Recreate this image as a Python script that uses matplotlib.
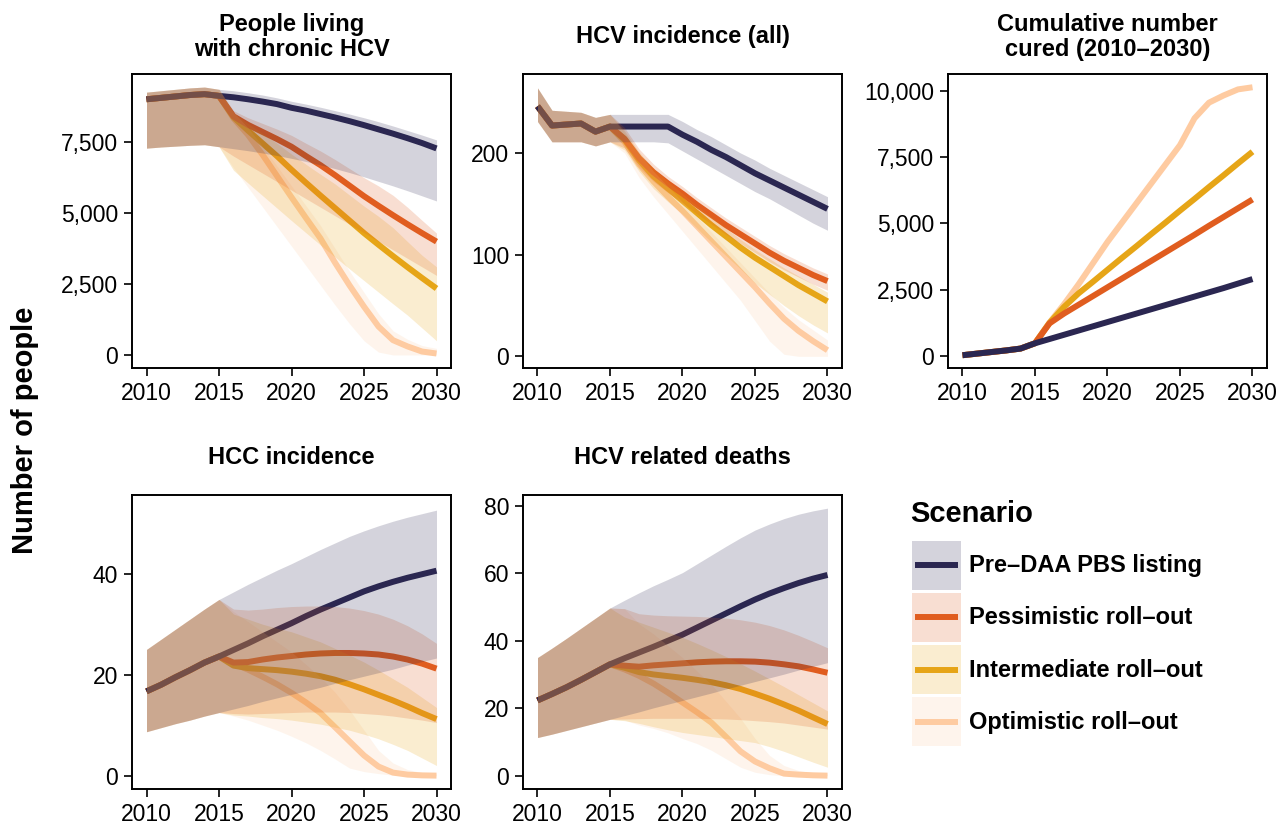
import matplotlib.pyplot as plt
from matplotlib.patches import Rectangle
from matplotlib.ticker import FuncFormatter

plt.rcParams['font.family'] = ['Liberation Sans', 'DejaVu Sans']

# years: shared history 2010-2015, scenarios split from 2016
years_pre = list(range(2010, 2016))
years_post = list(range(2016, 2031))

scenarios = ['pre', 'pess', 'inter', 'opt']
labels = ['Pre–DAA PBS listing', 'Pessimistic roll–out',
          'Intermediate roll–out', 'Optimistic roll–out']
colors = {'pre': '#2b2751', 'pess': '#e05d1f', 'inter': '#e6a517', 'opt': '#fecba1'}

# People living with chronic HCV
plhcv_mid = dict(
    common=[9000, 9050, 9100, 9150, 9180, 9120],
    pre=[9070, 9000, 8920, 8830, 8700, 8600, 8480, 8360, 8230, 8090, 7940, 7790, 7630, 7460, 7270],
    pess=[8400, 8100, 7850, 7600, 7330, 7000, 6680, 6330, 5960, 5590, 5250, 4920, 4600, 4290, 3990],
    inter=[8370, 7900, 7450, 7000, 6520, 6060, 5610, 5170, 4730, 4290, 3880, 3480, 3090, 2710, 2340],
    opt=[8330, 7750, 7050, 6300, 5550, 4820, 4100, 3250, 2450, 1700, 1000, 520, 300, 120, 50],
)
plhcv_hi = dict(
    common=[9250, 9300, 9350, 9400, 9430, 9350],
    pre=[9300, 9230, 9150, 9050, 8930, 8830, 8720, 8600, 8480, 8350, 8210, 8060, 7900, 7740, 7570],
    pess=[8600, 8350, 8150, 7950, 7730, 7450, 7180, 6880, 6560, 6240, 5950, 5620, 5200, 4740, 4290],
    inter=[8520, 8150, 7800, 7450, 7070, 6710, 6360, 6020, 5630, 5240, 4880, 4480, 3990, 3510, 3100],
    opt=[8550, 8000, 7350, 6650, 5950, 5250, 4550, 3750, 2950, 2200, 1450, 850, 550, 330, 230],
)
plhcv_lo = dict(
    common=[7280, 7320, 7350, 7380, 7400, 7330],
    pre=[7260, 7190, 7110, 7020, 6920, 6810, 6690, 6560, 6420, 6270, 6110, 5950, 5780, 5600, 5420],
    pess=[7000, 6700, 6400, 6100, 5800, 5500, 5200, 4900, 4600, 4300, 4000, 3700, 3400, 3100, 2800],
    inter=[6500, 6050, 5610, 5170, 4730, 4300, 3870, 3450, 3030, 2620, 2210, 1800, 1400, 950, 500],
    opt=[6590, 5900, 5210, 4520, 3830, 3140, 2450, 1760, 1100, 500, 100, 0, 0, 0, 0],
)

# HCV incidence (all)
inc_mid = dict(
    common=[246, 227, 228, 229, 221, 226],
    pre=[226, 226, 226, 226, 218, 211, 203, 196, 188, 180, 173, 166, 159, 152, 145],
    pess=[214, 195, 181, 170, 160, 149, 139, 129, 120, 111, 102, 94, 87, 80, 74],
    inter=[213, 193, 177, 165, 153, 141, 129, 118, 107, 97, 88, 79, 70, 62, 54],
    opt=[211, 189, 172, 157, 143, 128, 113, 98, 83, 68, 52, 37, 25, 15, 6],
)
inc_hi = dict(
    common=[264, 242, 241, 240, 235, 238],
    pre=[238, 238, 238, 238, 231, 223, 216, 208, 200, 193, 185, 178, 171, 164, 157],
    pess=[225, 204, 189, 177, 167, 156, 146, 136, 127, 118, 109, 101, 94, 87, 81],
    inter=[222, 201, 185, 172, 160, 148, 137, 126, 115, 105, 96, 87, 79, 71, 63],
    opt=[220, 200, 182, 167, 152, 137, 122, 107, 92, 77, 62, 48, 36, 26, 16],
)
inc_lo = dict(
    common=[231, 211, 211, 211, 207, 211],
    pre=[211, 211, 211, 210, 202, 194, 186, 178, 170, 162, 155, 147, 139, 131, 124],
    pess=[205, 186, 172, 161, 151, 140, 130, 120, 111, 102, 93, 85, 78, 71, 65],
    inter=[203, 182, 165, 152, 140, 126, 112, 99, 86, 72, 61, 50, 40, 31, 23],
    opt=[200, 176, 157, 140, 123, 106, 89, 72, 55, 35, 15, 2, 0, 0, 0],
)

# Cumulative number cured
cured = dict(
    common=[30, 90, 150, 210, 280, 480],
    pre=[640, 800, 960, 1120, 1280, 1440, 1600, 1760, 1920, 2080, 2240, 2400, 2560, 2730, 2900],
    pess=[1230, 1600, 1930, 2260, 2590, 2920, 3250, 3580, 3910, 4240, 4570, 4910, 5240, 5570, 5900],
    inter=[1250, 1850, 2360, 2800, 3250, 3700, 4140, 4590, 5030, 5480, 5920, 6370, 6810, 7260, 7700],
    opt=[1260, 1950, 2700, 3500, 4300, 5030, 5760, 6490, 7220, 7950, 8960, 9550, 9820, 10050, 10130],
)

# HCC incidence
hcc_mid = dict(
    common=[16.7, 18.0, 19.5, 20.9, 22.4, 23.6],
    pre=[24.9, 26.2, 27.6, 28.9, 30.2, 31.6, 32.9, 34.1, 35.3, 36.5, 37.5, 38.4, 39.2, 39.9, 40.6],
    pess=[22.4, 22.5, 23.0, 23.4, 23.7, 24.0, 24.2, 24.3, 24.3, 24.2, 24.0, 23.6, 23.0, 22.2, 21.2],
    inter=[21.8, 21.3, 21.1, 20.9, 20.6, 20.2, 19.7, 19.0, 18.1, 17.1, 16.0, 14.9, 13.7, 12.4, 11.2],
    opt=[22.2, 21.0, 19.6, 18.1, 16.4, 14.5, 12.4, 9.6, 6.8, 4.0, 1.8, 0.6, 0.2, 0.05, 0.0],
)
hcc_hi = dict(
    common=[25.0, 27.0, 29.0, 31.0, 33.0, 34.9],
    pre=[36.4, 37.9, 39.3, 40.7, 42.0, 43.4, 44.8, 46.1, 47.4, 48.5, 49.5, 50.4, 51.2, 51.9, 52.6],
    pess=[33.0, 32.8, 33.0, 33.3, 33.5, 33.6, 33.6, 33.5, 33.2, 32.7, 32.0, 31.0, 29.7, 28.1, 26.2],
    inter=[32.0, 31.0, 30.0, 29.2, 28.5, 27.5, 26.5, 25.2, 23.9, 22.5, 20.9, 19.2, 17.5, 15.5, 13.5],
    opt=[32.5, 30.5, 28.5, 26.5, 24.5, 22.0, 19.5, 16.5, 13.0, 9.0, 5.0, 2.5, 1.2, 0.6, 0.3],
)
hcc_lo = dict(
    common=[8.7, 9.5, 10.3, 11.0, 11.8, 12.5],
    pre=[13.2, 13.9, 14.7, 15.4, 16.1, 16.8, 17.5, 18.3, 19.0, 19.7, 20.4, 21.1, 21.9, 22.6, 23.3],
    pess=[12.3, 12.2, 12.3, 12.4, 12.5, 12.6, 12.6, 12.6, 12.5, 12.3, 12.1, 11.8, 11.4, 11.0, 10.5],
    inter=[12.0, 11.8, 11.5, 11.3, 11.0, 10.6, 10.2, 9.6, 9.0, 8.2, 7.3, 6.2, 5.0, 3.5, 2.0],
    opt=[11.8, 11.0, 10.0, 9.0, 7.8, 6.5, 5.0, 3.3, 1.5, 0.8, 0.4, 0.1, 0.0, 0.0, 0.0],
)

# HCV related deaths
death_mid = dict(
    common=[22.3, 24.2, 26.2, 28.4, 30.7, 33.0],
    pre=[34.8, 36.5, 38.2, 40.0, 41.8, 43.9, 46.0, 48.1, 50.2, 52.2, 54.0, 55.6, 57.1, 58.4, 59.5],
    pess=[32.6, 32.3, 32.7, 33.0, 33.3, 33.6, 33.8, 33.9, 33.9, 33.8, 33.5, 33.0, 32.4, 31.5, 30.5],
    inter=[32.0, 30.7, 30.0, 29.5, 29.0, 28.4, 27.7, 26.8, 25.7, 24.3, 22.8, 21.1, 19.3, 17.3, 15.3],
    opt=[31.5, 29.6, 27.3, 24.6, 21.7, 18.8, 15.7, 11.5, 7.2, 4.2, 2.2, 0.6, 0.3, 0.1, 0.0],
)
death_hi = dict(
    common=[35.0, 37.8, 40.7, 43.7, 46.7, 49.7],
    pre=[52.0, 54.2, 56.3, 58.2, 60.2, 62.8, 65.4, 68.0, 70.5, 72.8, 74.6, 76.2, 77.5, 78.5, 79.3],
    pess=[49.5, 48.0, 47.6, 47.4, 47.3, 47.2, 47.0, 46.7, 46.2, 45.5, 44.5, 43.2, 41.6, 39.8, 37.9],
    inter=[47.0, 45.5, 44.0, 42.5, 41.0, 39.2, 37.3, 35.3, 33.2, 31.0, 28.7, 26.4, 24.0, 21.6, 19.2],
    opt=[49.5, 45.0, 42.0, 38.5, 35.0, 31.0, 27.0, 22.0, 17.0, 11.0, 6.0, 3.0, 1.5, 0.8, 0.5],
)
death_lo = dict(
    common=[11.3, 12.3, 13.4, 14.5, 15.6, 16.7],
    pre=[17.8, 18.9, 20.1, 21.2, 22.3, 23.4, 24.5, 25.7, 26.8, 27.9, 29.0, 30.1, 31.3, 32.4, 33.5],
    pess=[16.8, 16.9, 17.0, 17.0, 17.0, 17.0, 16.9, 16.8, 16.6, 16.3, 16.0, 15.6, 15.0, 14.4, 13.8],
    inter=[16.3, 15.5, 14.5, 13.6, 12.8, 12.2, 11.6, 11.0, 10.4, 9.8, 8.6, 7.2, 5.6, 4.0, 2.5],
    opt=[16.5, 15.0, 14.0, 12.7, 11.0, 9.5, 7.5, 5.0, 2.5, 1.0, 0.3, 0.0, 0.0, 0.0, 0.0],
)

W, H = 1280, 825
fig = plt.figure(figsize=(W / 100, H / 100), dpi=100)

draw_order = ['opt', 'inter', 'pess', 'pre']
LW = 4.3


def panel(left, top, title, mid, lo=None, hi=None, yticks=(), ylim=None, comma=False):
    ax = fig.add_axes([left / W, 1 - (top + 294) / H, 319 / W, 294 / H])
    x = years_pre + years_post
    # lines first, ribbons on top (as in the original)
    for s in draw_order:
        ax.plot(x, mid['common'] + mid[s], color=colors[s], lw=LW,
                solid_capstyle='butt', solid_joinstyle='round', zorder=2)
    if lo is not None:
        for s in draw_order:
            ax.fill_between(x, lo['common'] + lo[s], hi['common'] + hi[s],
                            color=colors[s], alpha=0.2, lw=0, zorder=3)
    ax.set_xlim(2009, 2031)
    ax.set_xticks([2010, 2015, 2020, 2025, 2030])
    ax.set_yticks(yticks)
    ax.set_ylim(*ylim)
    if comma:
        ax.yaxis.set_major_formatter(FuncFormatter(lambda v, p: f'{v:,.0f}'))
    ax.tick_params(labelsize=16.5, length=6, width=1.2, colors='black', pad=4)
    for sp in ax.spines.values():
        sp.set_linewidth(1.4)
    ax.text(0.5, 1 + 37 / 294, title, transform=ax.transAxes, ha='center',
            va='center', fontsize=17, fontweight='bold', linespacing=1.1)
    return ax


panel(132, 74, 'People living\nwith chronic HCV', plhcv_mid, plhcv_lo, plhcv_hi,
      yticks=[0, 2500, 5000, 7500], ylim=(-460, 9890), comma=True)
panel(523, 74, 'HCV incidence (all)', inc_mid, inc_lo, inc_hi,
      yticks=[0, 100, 200], ylim=(-11.5, 277.7))
panel(948, 74, 'Cumulative number\ncured (2010–2030)', cured,
      yticks=[0, 2500, 5000, 7500, 10000], ylim=(-452, 10630), comma=True)
panel(132, 495, 'HCC incidence', hcc_mid, hcc_lo, hcc_hi,
      yticks=[0, 20, 40], ylim=(-2.65, 55.6))
panel(523, 495, 'HCV related deaths', death_mid, death_lo, death_hi,
      yticks=[0, 20, 40, 60, 80], ylim=(-3.96, 83.2))

fig.text(25 / W, 1 - 430 / H, 'Number of people', rotation=90, ha='center',
         va='center', fontsize=21, fontweight='bold')

# legend, laid out in figure pixels
leg = fig.add_axes([0, 0, 1, 1], zorder=-1)
leg.set_xlim(0, W)
leg.set_ylim(H, 0)
leg.axis('off')
leg.text(910, 514, 'Scenario', ha='left', va='center', fontsize=21, fontweight='bold')
for i, (s, lab) in enumerate(zip(scenarios, labels)):
    top = 540.5 + i * 52.3
    leg.add_patch(Rectangle((912, top), 49, 49, facecolor=colors[s], alpha=0.2, lw=0))
    leg.plot([915, 958], [top + 24.5, top + 24.5], color=colors[s], lw=LW,
             solid_capstyle='butt')
    leg.text(969, top + 25, lab, ha='left', va='center', fontsize=17, fontweight='bold')

fig.savefig('out.png', dpi=100)
